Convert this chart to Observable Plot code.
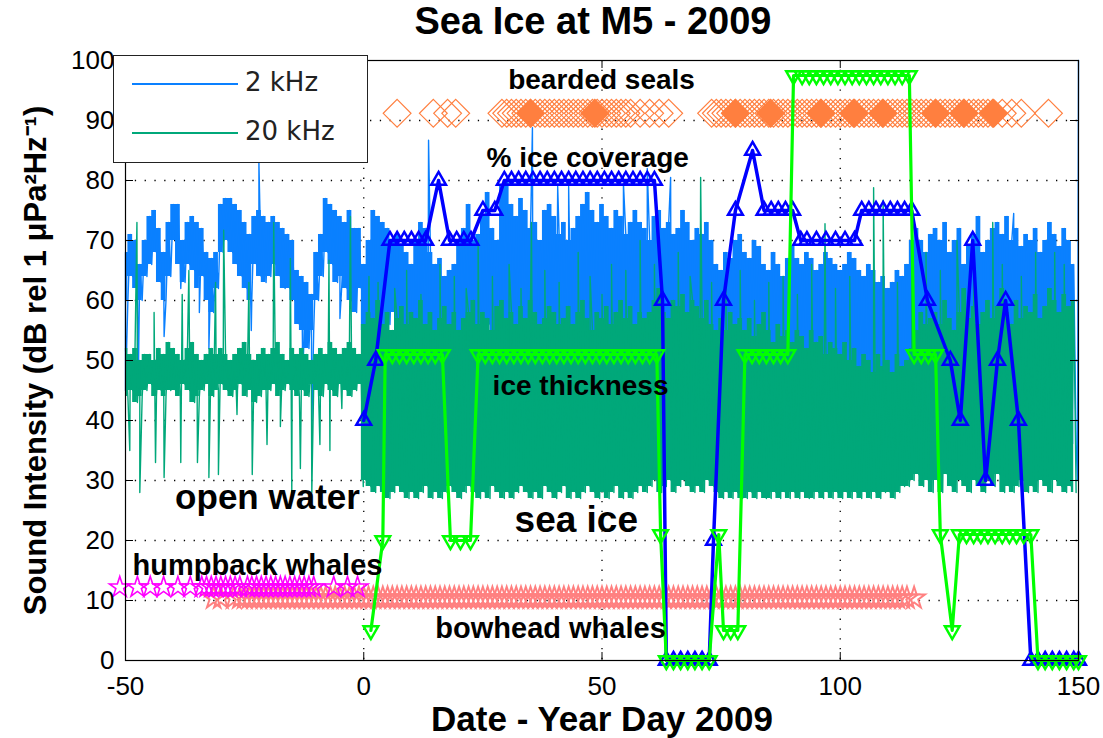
<!DOCTYPE html>
<html>
<head>
<meta charset="utf-8">
<script src="https://cdn.jsdelivr.net/npm/d3@7"></script>
<script src="https://cdn.jsdelivr.net/npm/@observablehq/plot@0.6"></script>
<style>
  html, body { margin: 0; padding: 0; background: #fff; }
  #wrap { position: relative; width: 1103px; height: 738px; overflow: hidden; background: #fff; }
  #title { height: 44px; line-height: 46px; box-sizing: border-box; padding-left: 83px; text-align: center;
           font: bold 38px "Liberation Sans", Arial, sans-serif; color: #000; }
  #legend { position: absolute; left: 113px; top: 55px; width: 255px; height: 108px; box-sizing: border-box;
            border: 1.5px solid #222; background: #fff; }
  #legend .row { position: absolute; left: 0; height: 30px; width: 100%; }
  #legend .sw { position: absolute; left: 18px; width: 106px; height: 0; top: 14px; border-top: 2px solid; }
  #legend .lab { position: absolute; left: 131px; top: -2px; font: 26px "DejaVu Sans", sans-serif; color: #222; }
</style>
</head>
<body>
<div id="wrap">
  <div id="title">Sea Ice at M5 - 2009</div>
  <div id="chart"></div>
  <div id="legend"></div>
</div>
<script>
// ---------------- data ----------------
const firstDay = -50;           // day of first entry in the per-day arrays
const xTicks = [-50, 0, 50, 100, 150];
const yTicks = [0, 10, 20, 30, 40, 50, 60, 70, 80, 90, 100];
const xGrid = [0, 50, 100];
const yGrid = [10, 20, 30, 40, 50, 60, 70, 80, 90];

const seriesNames = ["2 kHz", "20 kHz"];

// 2 kHz band: per-day upper / lower readings (day -50 ... 149)
const blueHi = [
  68,71,70,66,70,74,75,72,68,73,
  76,76,70,73,74,73,72,68,67,68,
  76,77,77,76,75,73,71,74,75,74,
  73,74,73,72,71,70,65,64,63,61,
  68,71,77,76,75,74,73,75,72,72,
  66,70,75,74,73,72,70,71,69,68,
  66,70,73,72,68,66,67,64,65,66,
  70,72,76,70,71,74,78,72,70,79,
  80,76,74,77,75,72,73,70,75,76,
  74,71,73,70,72,74,76,78,75,73,
  76,74,72,75,74,71,73,75,73,72,
  70,74,75,72,73,71,72,75,73,70,
  72,71,73,70,66,65,68,67,70,71,
  68,67,70,69,66,65,68,66,64,67,
  69,67,66,68,67,65,66,68,67,66,
  65,66,68,67,65,64,66,65,63,64,
  62,63,65,64,66,70,72,70,68,71,
  72,70,73,68,70,72,66,69,71,74,
  68,70,72,73,71,74,70,72,69,71,
  70,72,68,70,73,71,69,72,70,66
];
const blueLo = [
  60,64,62,60,64,66,68,63,60,64,
  70,66,63,66,65,62,64,60,58,62,
  68,70,68,66,64,62,60,66,64,63,
  64,66,64,62,62,60,56,55,52,55,
  60,64,68,66,63,64,62,60,58,62,
  55,48,50,52,55,56,58,52,54,50,
  52,50,55,56,50,48,52,46,50,52,
  54,52,55,50,52,54,56,50,52,55,
  56,52,54,56,50,52,55,52,54,56,
  55,52,50,54,56,52,54,55,53,50,
  54,52,55,56,52,54,55,50,52,54,
  50,52,55,54,52,50,53,55,52,50,
  52,50,54,52,50,48,47,50,52,50,
  48,50,47,49,50,46,48,50,47,49,
  48,47,50,49,47,48,46,49,48,47,
  46,44,47,45,43,44,46,42,45,44,
  43,45,44,46,42,45,50,48,46,47,
  45,42,48,44,40,42,38,44,46,42,
  40,44,42,46,38,44,40,45,42,40,
  42,38,45,40,43,41,44,38,42,36
];
// 20 kHz band: per-day upper / lower readings (day -50 ... 149)
const greenHi = [
  52,51,52,50,51,51,50,52,51,53,
  52,51,50,52,53,51,50,51,52,51,
  52,51,50,51,52,53,51,50,51,52,
  51,52,53,51,50,52,51,52,51,50,
  51,52,51,53,52,51,52,53,52,51,
  56,58,57,60,56,58,55,57,59,56,
  58,57,60,56,58,55,57,59,56,58,
  55,57,58,60,56,58,57,55,59,60,
  57,58,56,59,57,60,58,56,57,59,
  58,56,57,59,56,58,60,57,55,58,
  57,59,56,58,60,57,59,56,58,57,
  58,60,62,58,57,60,59,61,58,60,
  59,57,60,56,55,57,55,58,56,57,
  55,57,54,56,58,55,53,56,54,55,
  53,55,54,52,55,53,54,51,53,52,
  51,53,50,52,49,51,50,48,51,49,
  50,48,51,49,50,52,55,58,56,57,
  58,56,60,57,55,58,62,57,59,56,
  58,60,57,59,62,58,56,60,57,59,
  58,61,57,59,62,60,58,61,59,60
];
const greenLo = [
  44,45,43,44,45,46,44,45,44,45,
  45,44,46,45,43,44,45,46,44,45,
  46,45,44,45,46,44,45,43,44,45,
  45,46,44,45,46,45,44,45,44,46,
  45,44,46,45,44,46,45,44,45,46,
  30,29,28,29,28,27,28,29,28,27,
  28,27,28,29,27,28,27,28,29,28,
  27,28,29,28,27,28,27,29,28,27,
  28,27,28,29,28,27,28,27,29,28,
  27,28,29,27,28,27,28,29,28,27,
  28,27,28,29,27,28,27,28,29,28,
  29,30,28,29,30,28,29,30,29,28,
  29,28,30,29,28,27,28,27,28,27,
  27,28,27,28,27,27,28,27,28,27,
  28,27,28,27,27,28,27,28,27,28,
  27,28,27,28,27,28,27,28,27,28,
  28,27,28,29,29,30,31,29,30,28,
  30,28,31,29,28,30,29,28,30,29,
  28,30,29,31,28,29,28,29,30,28,
  29,28,30,29,28,30,29,28,29,28
];
// isolated spikes [day, dB]
const blueSpikes = [[-50, 45], [-47.3, 47], [-41.9, 54], [-38.4, 62], [-34.5, 58], [-32.5, 52], [-23.6, 55],
  [-22, 83], [-12.8, 47], [-10.9, 39], [-5, 57], [13.6, 86.7], [35.4, 88.8], [40.7, 79], [43, 79],
  [54.5, 79.5], [59.5, 82], [64.4, 80.5], [136.4, 74.5], [149.8, 30], [150, 100]];
const greenSpikes = [[-49.1, 35], [-47.6, 73], [-47, 28], [-44, 58], [-43.7, 33], [-41.9, 30.5],
  [-38.4, 33], [-38.1, 61], [-36.7, 65], [-34.9, 33], [-32.5, 30.5], [-31.1, 63], [-30.5, 31],
  [-29.4, 71.7], [-26.6, 41], [-24.1, 63], [-23.4, 31], [-20.3, 36], [-18.9, 73], [-17.5, 39],
  [-15.4, 67], [-15.1, 28], [-13.3, 32], [-10.9, 28], [-9.2, 36], [-7.3, 66.7], [-7.1, 35],
  [-4.6, 42], [-2.8, 74], [-0.1, 29], [1.1, 64], [3, 63], [6.5, 62], [9, 65], [12, 61], [16, 66],
  [19, 64], [21.5, 62], [24, 70], [27, 64], [30.5, 66], [33, 62], [35.2, 73], [38, 65], [41, 63],
  [45, 68], [47.5, 64], [50, 61], [52, 66], [55, 65], [58, 70], [61, 66], [66, 68], [68.5, 64],
  [70.7, 80.5], [73, 63], [76, 62], [79, 65], [82, 60], [85, 63], [88, 64], [91, 61], [94, 66],
  [96.8, 72.8], [99, 62], [102, 64], [107, 78.8], [109, 76.7], [112, 63], [115, 66], [118, 68],
  [121, 65], [124.5, 70], [128, 67], [132, 73], [134, 66], [138, 64], [141, 68], [145, 68], [147, 66]];

// % ice coverage
const coverDays = [0, 2.5, 5.5, 7, 8.5, 10, 11.5, 13, 15.7, 18, 19.5, 21, 22.5, 25, 27.5, 29.5, 31, 32.5, 34,
  35.5, 37, 38.5, 40, 41.5, 43, 44.5, 46, 47.5, 49, 50.5, 52, 53.5, 55, 56.5, 58, 59.5, 61, 62.7, 63.5, 65,
  66.5, 68, 69.5, 71, 72.5, 73.4, 75.5, 78, 81.6, 84, 85.5, 87, 88.5, 90, 91.7, 93, 95, 97, 99, 101, 103,
  104.5, 106, 107.5, 109, 110.5, 112, 113.5, 115, 118.3, 123.1, 125.2, 127.8, 130.5, 133, 134.7, 137.4,
  140, 141.5, 143, 144.5, 146, 147.5, 149, 150];
const coverPct = [40, 50, 70, 70, 70, 70, 70, 70, 80, 70, 70, 70, 70, 75, 75, 80, 80, 80, 80,
  80, 80, 80, 80, 80, 80, 80, 80, 80, 80, 80, 80, 80, 80, 80, 80, 80, 80, 60, 0, 0,
  0, 0, 0, 0, 0, 20, 60, 75, 85, 75, 75, 75, 75, 75, 70, 70, 70, 70, 70, 70, 70,
  75, 75, 75, 75, 75, 75, 75, 75, 60, 50, 40, 70, 30, 50, 60, 40,
  0, 0, 0, 0, 0, 0, 0, 0];

// ice thickness
const thickDays = [1.5, 4, 4.5, 6, 7.5, 9, 10.5, 12, 13.5, 15, 16.5, 18.2, 20.3, 22.4, 24, 25.5, 27, 28.5,
  30, 31.5, 33, 34.5, 36, 37.5, 39, 40.5, 42, 43.5, 45, 46.5, 48, 49.5, 51, 52.5, 54, 55.5, 57, 58.5, 60,
  61.5, 62.3, 63.5, 65, 66.5, 68, 69.5, 71, 72.5, 74.5, 75.5, 77, 78.5, 80, 81.5, 83, 84.5, 86, 87.5, 89,
  90.2, 92, 93.5, 95, 96.5, 98, 99.5, 101, 102.5, 104, 105.5, 107, 108.5, 110, 111.5, 113, 114.5, 115.5,
  117, 118.5, 120, 121, 123.5, 125, 126.5, 128, 129.5, 131, 132.5, 134, 135.5, 137, 138.5, 140, 141.5,
  143, 144.5, 146, 147.5, 149, 150];
const thickVal = [5, 20, 51, 51, 51, 51, 51, 51, 51, 51, 51, 20, 20, 20, 51, 51, 51, 51,
  51, 51, 51, 51, 51, 51, 51, 51, 51, 51, 51, 51, 51, 51, 51, 51, 51, 51, 51, 51, 51,
  51, 21, 0, 0, 0, 0, 0, 0, 0, 21, 5, 5, 5, 51, 51, 51, 51, 51, 51, 51,
  97.5, 97.5, 97.5, 97.5, 97.5, 97.5, 97.5, 97.5, 97.5, 97.5, 97.5, 97.5, 97.5, 97.5, 97.5, 97.5, 97.5, 51,
  51, 51, 51, 21, 5, 21, 21, 21, 21, 21, 21, 21, 21, 21, 21, 21, 0, 0,
  0, 0, 0, 0, 0, 0];

// whale / seal detections (day of year)
const sealLevel = 91.2;
const sealDays = [7, 14.6, 17.6, 19.3, 29, 30, 31, 32, 33, 34, 35, 36, 37, 38, 39, 40, 41, 42, 43, 44, 45,
  46, 47, 48, 49, 50, 51, 52, 53, 54, 55, 56, 58, 60, 62, 64, 73, 74, 75, 76, 77, 78, 79, 80, 81, 82, 83,
  84, 85, 86, 87, 88, 89, 90, 91, 92, 93, 94, 95, 96, 97, 98, 99, 100, 101, 102, 103, 104, 105, 106, 107,
  108, 109, 110, 111, 112, 113, 114, 115, 116, 117, 118, 119, 120, 121, 122, 123, 124, 125, 126, 127, 128,
  129, 130, 131, 132, 134, 136, 138, 143.7];
const sealDenseDays = [35, 48.5, 78, 85.4, 95.9, 102.8, 108.9, 120, 125.9, 132.2];

const humpbackLevel = 12.2;
const humpbackDays = [-51.2, -47.5, -44.8, -42, -39, -36.4, -34, -33, -32, -31, -30, -29, -28, -27, -26,
  -24.4, -23.5, -22.5, -21.5, -20.5, -19.5, -18.5, -17.5, -16.5, -15.5, -14.5, -13.5, -12.5, -11.5, -10.5,
  -6.3, -3.4, -1.3];
const bowheadLevel = 10.4;
const bowheadDays = [-31.5, -30, -27.3, -26, -25, -24, -23, -22, -21, -20, -19, -18, -17, -16, -15, -14, -13,
  -12, -11, -10, -9, -8, -7, -6, -5, -4, -3, -2, -1, 0, 1, 2, 3, 4, 5, 6, 7, 8, 9, 10, 11, 12, 13, 14, 15,
  16, 17, 18, 19, 20, 21, 22, 23, 24, 25, 26, 27, 28, 29, 30, 31, 32, 33, 34, 35, 36, 37, 38, 39, 40, 41,
  42, 43, 44, 45, 46, 47, 48, 49, 50, 51, 52, 53, 54, 55, 56, 57, 58, 59, 60, 61, 62, 63, 64, 65, 66, 67,
  68, 69, 70, 71, 72, 73, 74, 75, 76, 77, 78, 79, 80, 81, 82, 83, 84, 85, 86, 87, 88, 89, 90, 91, 92, 93,
  94, 95, 96, 97, 98, 99, 100, 101, 102, 103, 104, 105, 106, 107, 108, 109, 110, 111, 112, 113, 114, 115.5];

// annotations
const noteText = ["bearded seals", "% ice coverage", "ice thickness", "open water", "sea ice", "humpback whales", "bowhead whales"];
const noteDay = [49.9, 47, 45.5, -20.2, 44.6, -22.3, 39.2];
const noteLevel = [96.7, 83.8, 45.7, 27.2, 23.4, 15.8, 5.3];

const title = "Sea Ice at M5 - 2009";
const xLabel = "Date - Year Day 2009";
const yLabel = "Sound Intensity (dB rel 1 \u03BCPa\u00B2Hz\u207B\u00B9)";

// ---------------- build tables ----------------
function zigzag(hi, lo, spikes) {
  const pts = [];
  hi.forEach((h, i) => {
    const d = firstDay + i;
    pts.push({x: d, y: h});
    pts.push({x: d + 0.5, y: lo[i]});
  });
  spikes.forEach(([x, y]) => pts.push({x, y}));
  pts.sort((a, b) => a.x - b.x);
  return pts;
}
function bandRows(hi, lo) {
  return hi.map((h, i) => ({d: firstDay + i, hi: h, lo: lo[i]}));
}
const blueRows = bandRows(blueHi, blueLo);
const greenRows = bandRows(greenHi, greenLo);
const bluePts = zigzag(blueHi, blueLo, blueSpikes);
const greenPts = zigzag(greenHi, greenLo, greenSpikes);
const cover = coverDays.map((d, i) => ({x: d, y: coverPct[i]}));
const thick = thickDays.map((d, i) => ({x: d, y: thickVal[i]}));
const seals = sealDays.map(d => ({x: d, y: sealLevel}));
const sealsDense = sealDenseDays.map(d => ({x: d, y: sealLevel}));
const humpback = humpbackDays.map(d => ({x: d, y: humpbackLevel}));
const bowhead = bowheadDays.map(d => ({x: d, y: bowheadLevel}));
const notes = noteText.map((t, i) => ({t, x: noteDay[i], y: noteLevel[i]}));

const triangleDown = {
  draw(context, size) {
    const y = Math.sqrt(size / (Math.sqrt(3) * 3));
    const w = Math.sqrt(3) * y;
    context.moveTo(0, 2 * y);
    context.lineTo(-w, -y);
    context.lineTo(w, -y);
    context.closePath();
  }
};

const colors = {
  blue: "#0a80ff", green: "#00a87a", cover: "#0000ff", thick: "#00ff00",
  seal: "#ff7f3f", bowhead: "#ff8080", humpback: "#ff00ff"
};
const noteSize = {"bearded seals": 28, "% ice coverage": 28, "ice thickness": 28, "open water": 35,
  "sea ice": 37, "humpback whales": 29, "bowhead whales": 29};

const W = 1103, H = 694, mT = 16, mB = 78, mL = 125, mR = 25;
const innerW = W - mL - mR, innerH = H - mT - mB;
const font = "'Liberation Sans', Arial, sans-serif";

const chart = Plot.plot({
  width: W, height: H,
  marginTop: mT, marginBottom: mB, marginLeft: mL, marginRight: mR,
  x: {domain: [-50, 150]},
  y: {domain: [0, 100]},
  style: {fontFamily: font, background: "white", overflow: "visible", color: "black"},
  marks: [
    Plot.ruleX(xGrid, {stroke: "#000", strokeWidth: 1.3, strokeDasharray: "1.3,8.5"}),
    Plot.ruleY(yGrid, {stroke: "#000", strokeWidth: 1.3, strokeDasharray: "1.3,8.5"}),
    Plot.areaY(blueRows, {x: "d", y1: "lo", y2: "hi", curve: "step", fill: colors.blue}),
    Plot.line(bluePts, {x: "x", y: "y", stroke: colors.blue, strokeWidth: 1.4}),
    Plot.areaY(greenRows, {x: "d", y1: "lo", y2: "hi", curve: "step", fill: colors.green}),
    Plot.line(greenPts, {x: "x", y: "y", stroke: colors.green, strokeWidth: 1.4}),
    Plot.dot(bowhead, {x: "x", y: "y", symbol: "star", r: 6.8, stroke: colors.bowhead, fill: "none", strokeWidth: 2}),
    Plot.dot(humpback, {x: "x", y: "y", symbol: "star", r: 6.5, stroke: colors.humpback, fill: "none", strokeWidth: 1.6}),
    Plot.dot(seals, {x: "x", y: "y", symbol: "diamond2", r: 12.5, stroke: colors.seal, fill: "none", strokeWidth: 1.2}),
    Plot.dot(sealsDense, {x: "x", y: "y", symbol: "diamond2", r: 12.5, stroke: colors.seal, fill: colors.seal, strokeWidth: 1.2}),
    Plot.line(cover, {x: "x", y: "y", stroke: colors.cover, strokeWidth: 3.5}),
    Plot.dot(cover, {x: "x", y: "y", symbol: "triangle", r: 5.5, stroke: colors.cover, fill: "none", strokeWidth: 2.5}),
    Plot.line(thick, {x: "x", y: "y", stroke: colors.thick, strokeWidth: 3.2}),
    Plot.dot(thick, {x: "x", y: "y", symbol: triangleDown, r: 5.5, stroke: colors.thick, fill: "none", strokeWidth: 2.4}),
    Plot.text(notes, {x: "x", y: "y", text: "t", fontWeight: "bold", fill: "#000",
      fontSize: d => noteSize[d.t], textAnchor: "middle", lineAnchor: "middle"}),
    Plot.frame({stroke: "#000", strokeWidth: 1.2}),
    Plot.tickX(xTicks, {x: d => d, stroke: "#000", insetTop: innerH - 8}),
    Plot.tickX(xTicks, {x: d => d, stroke: "#000", insetBottom: innerH - 8}),
    Plot.tickY(yTicks, {y: d => d, stroke: "#000", insetRight: innerW - 8}),
    Plot.tickY(yTicks, {y: d => d, stroke: "#000", insetLeft: innerW - 8}),
    Plot.axisX({ticks: xTicks, tickSize: 0, tickPadding: 16, fontSize: 26, tickFormat: d => String(d), label: null}),
    Plot.axisY({ticks: yTicks, tickSize: 0, tickPadding: 11, fontSize: 26, tickFormat: d => String(d), label: null}),
    Plot.text([xLabel], {frameAnchor: "bottom", dy: 59, fontSize: 35, fontWeight: "bold", textAnchor: "middle", lineAnchor: "middle"}),
    Plot.text([yLabel], {frameAnchor: "left", dx: -89, rotate: -90, fontSize: 31, fontWeight: "bold", textAnchor: "middle", lineAnchor: "middle"})
  ]
});
document.getElementById("chart").appendChild(chart);
document.getElementById("title").textContent = title;

// legend
const legendColors = [colors.blue, colors.green];
const legend = document.getElementById("legend");
seriesNames.forEach((name, i) => {
  const row = document.createElement("div");
  row.className = "row";
  row.style.top = (i === 0 ? 13 : 62) + "px";
  row.innerHTML = `<div class="sw" style="border-color:${legendColors[i]}"></div><div class="lab">${name}</div>`;
  legend.appendChild(row);
});
</script>
</body>
</html>
